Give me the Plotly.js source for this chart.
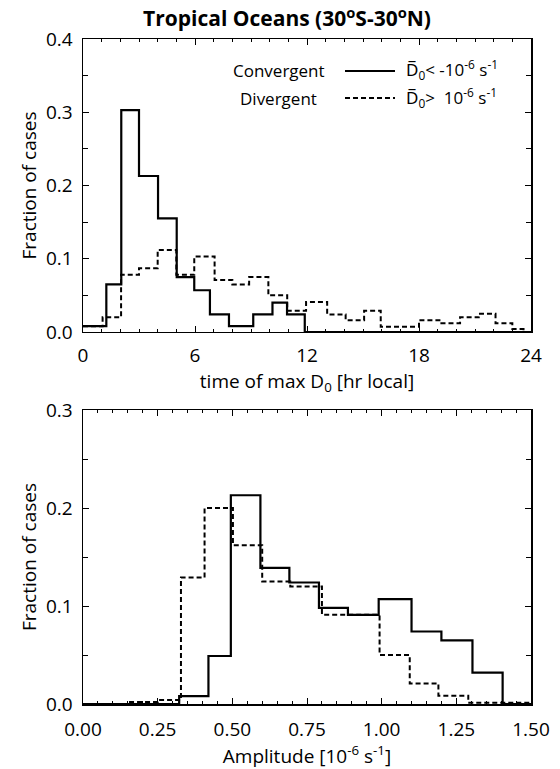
<!DOCTYPE html>
<html>
<head>
<meta charset="utf-8">
<script src="https://cdn.plot.ly/plotly-3.0.1.min.js"></script>
<style>html,body{margin:0;padding:0;background:#fff;}#chart{width:560px;height:769px;}</style>
</head>
<body>
<div id="chart"></div>
<script>
// ---- Top panel: time of max D0 (hr local) ----
var timeEdgesConv = [0, 1.25, 2.05, 3.0, 4.02, 5.02, 5.96, 6.8, 7.82, 9.12, 10.15, 10.93, 11.88, 24];
var timeFracConv  = [0.008, 0.065, 0.303, 0.213, 0.155, 0.075, 0.057, 0.024, 0.008, 0.024, 0.040, 0.024, 0.0];

var timeEdgesDiv = [0, 1.05, 2.04, 3.0, 4.0, 5.0, 5.96, 7.05, 8.0, 8.9, 9.93, 10.94, 11.95, 13.08, 14.07, 15.06, 15.95, 18.0, 19.2, 20.2, 21.2, 22.1, 23.0, 23.6, 24];
var timeFracDiv  = [0.008, 0.020, 0.078, 0.087, 0.112, 0.078, 0.103, 0.071, 0.065, 0.075, 0.050, 0.029, 0.041, 0.024, 0.016, 0.029, 0.007, 0.016, 0.012, 0.020, 0.025, 0.012, 0.004, 0.0];

// ---- Bottom panel: amplitude (1e-6 s^-1) ----
var ampEdgesConv = [0, 0.322, 0.42, 0.495, 0.594, 0.691, 0.79, 0.887, 0.99, 1.1, 1.2, 1.304, 1.405, 1.5];
var ampFracConv  = [0.0, 0.008, 0.049, 0.213, 0.139, 0.124, 0.098, 0.091, 0.107, 0.074, 0.065, 0.032, 0.0];

var ampEdgesDiv = [0, 0.15, 0.25, 0.328, 0.407, 0.502, 0.6, 0.694, 0.8, 0.993, 1.094, 1.19, 1.29, 1.5];
var ampFracDiv  = [0.0, 0.002, 0.004, 0.129, 0.200, 0.162, 0.125, 0.120, 0.091, 0.050, 0.021, 0.0085, 0.0013];

var timeTicks = [0, 6, 12, 18, 24];
var ampTicks = [0.00, 0.25, 0.50, 0.75, 1.00, 1.25, 1.50];

var titleText = '<b>Tropical Oceans (30<sup>o</sup>S-30<sup>o</sup>N)</b>';
var legendNames = ['Convergent', 'Divergent'];
var legendConds = ['D\u0305<sub>0</sub>&#60; -10<sup>-6</sup> s<sup>-1</sup>', 'D\u0305<sub>0</sub>&#62;  10<sup>-6</sup> s<sup>-1</sup>'];

function stepY(vals){ return vals.concat([vals[vals.length-1]]); }

var FONT = 'Open Sans, Noto Sans, sans-serif';
var solid = {color:'black', width:2.2, shape:'hv'};
var dashed = {color:'black', width:2, shape:'hv', dash:'5px,3px'};

var traces = [
  {x: timeEdgesConv, y: stepY(timeFracConv), xaxis:'x', yaxis:'y', mode:'lines', line: solid, name: legendNames[0]},
  {x: timeEdgesDiv, y: stepY(timeFracDiv), xaxis:'x', yaxis:'y', mode:'lines', line: dashed, name: legendNames[1]},
  {x: ampEdgesConv, y: stepY(ampFracConv), xaxis:'x2', yaxis:'y2', mode:'lines', line: solid, name: legendNames[0]},
  {x: ampEdgesDiv, y: stepY(ampFracDiv), xaxis:'x2', yaxis:'y2', mode:'lines', line: dashed, name: legendNames[1]}
];

var FS = 19;
var tickFont = {family: FONT, size: FS, color: 'black'};
function axisCommon(){
  return {showgrid:false, zeroline:false, showline:true, linecolor:'black', linewidth:1.5,
          mirror:'allticks', ticks:'inside', ticklen:6, tickwidth:1, tickcolor:'black',
          tickfont: tickFont, fixedrange:true};
}

var xa = Object.assign(axisCommon(), {domain:[0,1], anchor:'y', range:[0,24], tickmode:'array', tickvals: timeTicks,
  ticktext: timeTicks.map(String), minor:{dtick:1, ticklen:3, ticks:'inside', tickcolor:'black', tickwidth:1},
  ticklabelstandoff: 6,
  title:{text:'time of max D<sub>0</sub> [hr local]', font:{family:FONT, size:FS, color:'black'}, standoff:0}});
var ya = Object.assign(axisCommon(), {domain:[0.5594,1], anchor:'x', range:[0,0.4], dtick:0.1, tickformat:'.1f',
  minor:{dtick:0.05, ticklen:5, ticks:'inside', tickcolor:'black', tickwidth:1}, ticklen:6,
  ticklabelstandoff: 5,
  title:{text:'Fraction of cases', font:{family:FONT, size:FS, color:'black'}, standoff:4}});
var xa2 = Object.assign(axisCommon(), {domain:[0,1], anchor:'y2', range:[0,1.5], tickmode:'array', tickvals: ampTicks,
  ticktext: ampTicks.map(function(v){return v.toFixed(2);}), minor:{dtick:0.05, ticklen:3, ticks:'inside', tickcolor:'black', tickwidth:1},
  ticklabelstandoff: 8,
  title:{text:'Amplitude [10<sup>-6</sup> s<sup>-1</sup>]', font:{family:FONT, size:FS, color:'black'}, standoff:0}});
var ya2 = Object.assign(axisCommon(), {domain:[0,0.4421], anchor:'x2', range:[0,0.3], dtick:0.1, tickformat:'.1f',
  minor:{dtick:0.05, ticklen:5, ticks:'inside', tickcolor:'black', tickwidth:1}, ticklen:6,
  ticklabelstandoff: 5,
  title:{text:'Fraction of cases', font:{family:FONT, size:FS, color:'black'}, standoff:4}});

// legend drawn as annotations + sample lines (paper coords of top panel)
var W = 560, H = 769, ml = 83, mr = 29, mt = 39, mb = 65;
function px(x){ return (x - ml) / (W - ml - mr); }
function py(y){ return (H - mb - y) / (H - mt - mb); }

var LFS = 17;
var annotations = [
  {text: legendNames[0], x: px(327), y: py(71), xref:'paper', yref:'paper', xanchor:'right', yanchor:'middle', showarrow:false, font:{family:FONT, size:LFS, color:'black'}},
  {text: legendNames[1], x: px(319), y: py(98), xref:'paper', yref:'paper', xanchor:'right', yanchor:'middle', showarrow:false, font:{family:FONT, size:LFS, color:'black'}},
  {text: legendConds[0], x: px(404), y: py(70), xref:'paper', yref:'paper', xanchor:'left', yanchor:'middle', showarrow:false, font:{family:FONT, size:LFS, color:'black'}},
  {text: legendConds[1], x: px(404), y: py(97), xref:'paper', yref:'paper', xanchor:'left', yanchor:'middle', showarrow:false, font:{family:FONT, size:LFS, color:'black'}}
];
var shapes = [
  {type:'line', xref:'paper', yref:'paper', x0: px(345), x1: px(395), y0: py(71), y1: py(71), line:{color:'black', width:2.2}},
  {type:'line', xref:'paper', yref:'paper', x0: px(345), x1: px(395), y0: py(98), y1: py(98), line:{color:'black', width:2, dash:'5px,3px'}}
];

var layout = {
  width: W, height: H, paper_bgcolor:'white', plot_bgcolor:'white', showlegend:false,
  margin:{l:ml, r:mr, t:mt, b:mb, pad:0},
  title:{text: titleText, font:{family:FONT, size:21, color:'black'}, x: px(287), xref:'paper', y: 1 - 19/H, yref:'container', xanchor:'center', yanchor:'middle'},
  xaxis: xa, yaxis: ya, xaxis2: xa2, yaxis2: ya2,
  annotations: annotations, shapes: shapes
};

Plotly.newPlot('chart', traces, layout, {staticPlot:true, displayModeBar:false});
</script>
</body>
</html>
